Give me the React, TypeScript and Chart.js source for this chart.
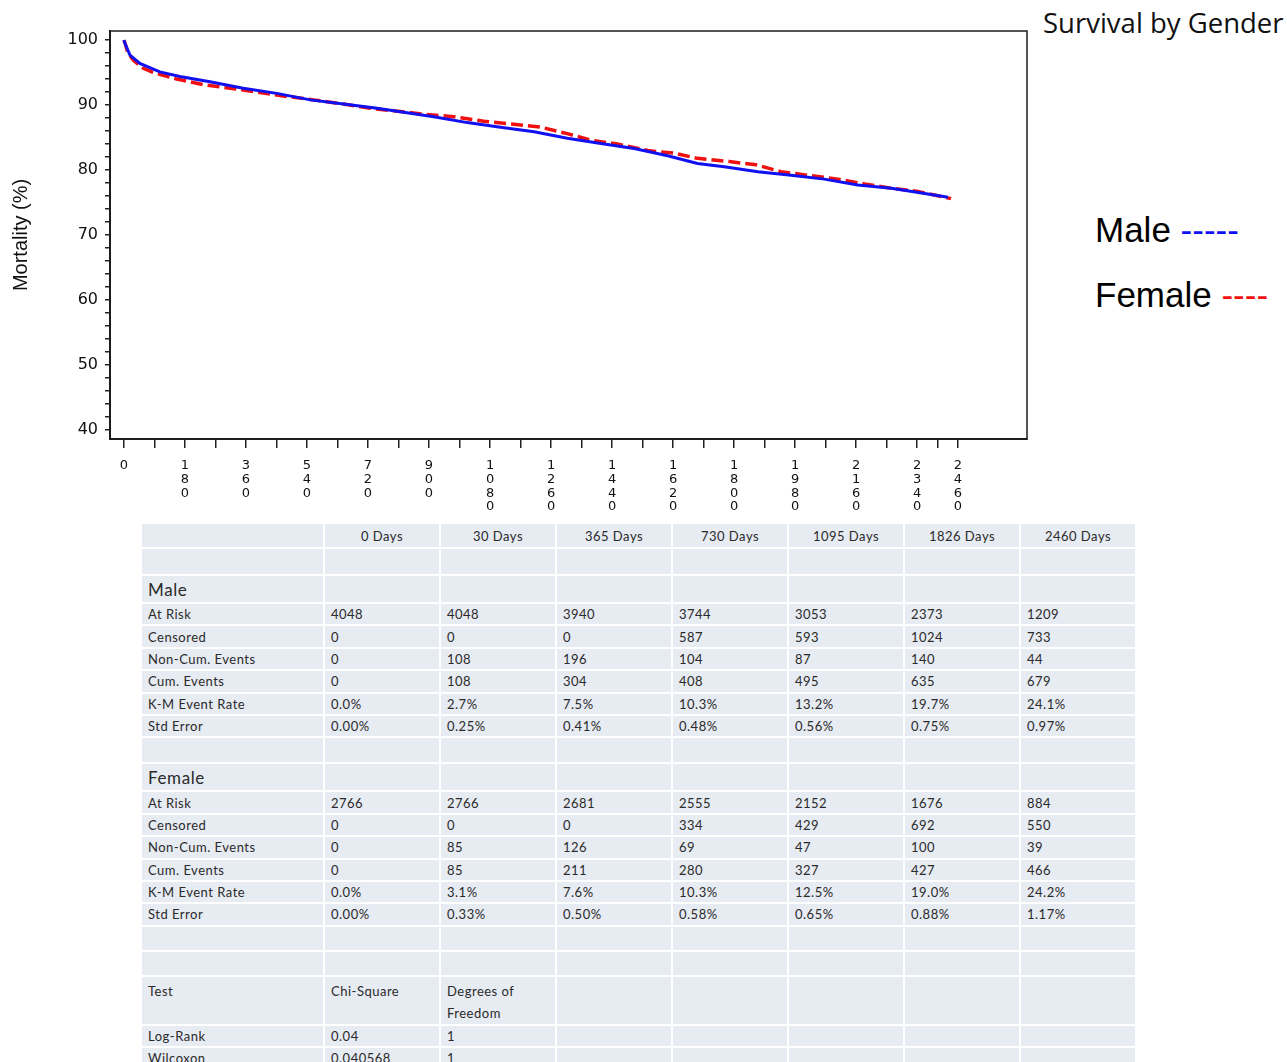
import React, { useEffect, useRef } from 'react';
import { Chart, registerables } from 'chart.js';

Chart.register(...registerables);

// ---- Curve data (survival %) ----
const maleDays = [0, 3, 18, 47, 106, 165, 254, 352, 451, 550, 648, 747, 825, 914, 1013, 1111, 1210, 1308, 1407, 1505, 1604, 1692, 1771, 1870, 1968, 2066, 2165, 2264, 2362, 2431];
const maleSurvival = [100, 99.5, 97.7, 96.4, 95.1, 94.4, 93.6, 92.6, 91.8, 90.8, 90.15, 89.5, 88.9, 88.2, 87.3, 86.6, 85.9, 84.9, 84.1, 83.3, 82.2, 81.0, 80.5, 79.75, 79.2, 78.6, 77.7, 77.2, 76.4, 75.8];

const femaleDays = [0, 3, 12, 28, 56, 82, 156, 239, 313, 470, 559, 648, 727, 816, 885, 973, 1062, 1141, 1229, 1308, 1377, 1456, 1545, 1623, 1692, 1786, 1865, 1938, 2017, 2106, 2185, 2264, 2342, 2440];
const femaleSurvival = [100, 99.6, 98.0, 96.9, 95.7, 95.1, 94.0, 93.1, 92.6, 91.4, 90.8, 90.15, 89.5, 89.0, 88.6, 88.2, 87.5, 87.1, 86.6, 85.6, 84.6, 84.0, 83.0, 82.6, 81.8, 81.3, 80.8, 79.75, 79.2, 78.6, 77.85, 77.2, 76.7, 75.6];

// ---- Axis ticks ----
const xTicks = [0, 90, 180, 270, 360, 450, 540, 630, 720, 810, 900, 990, 1080, 1170, 1260, 1350, 1440, 1530, 1620, 1710, 1800, 1890, 1980, 2070, 2160, 2250, 2340, 2400, 2460];
const xLabels = [0, 180, 360, 540, 720, 900, 1080, 1260, 1440, 1620, 1800, 1980, 2160, 2340, 2460];
const yTicks = [40, 42, 44, 46, 48, 50, 52, 54, 56, 58, 60, 62, 64, 66, 68, 70, 72, 74, 76, 78, 80, 82, 84, 86, 88, 90, 92, 94, 96, 98, 100];
const yLabels = [40, 50, 60, 70, 80, 90, 100];

// ---- Table data ----
const columns = ['0 Days', '30 Days', '365 Days', '730 Days', '1095 Days', '1826 Days', '2460 Days'];
const rowLabels = ['At Risk', 'Censored', 'Non-Cum. Events', 'Cum. Events', 'K-M Event Rate', 'Std Error'];
const maleAtRisk = ['4048', '4048', '3940', '3744', '3053', '2373', '1209'];
const maleCensored = ['0', '0', '0', '587', '593', '1024', '733'];
const maleNonCum = ['0', '108', '196', '104', '87', '140', '44'];
const maleCum = ['0', '108', '304', '408', '495', '635', '679'];
const maleKM = ['0.0%', '2.7%', '7.5%', '10.3%', '13.2%', '19.7%', '24.1%'];
const maleSE = ['0.00%', '0.25%', '0.41%', '0.48%', '0.56%', '0.75%', '0.97%'];
const femaleAtRisk = ['2766', '2766', '2681', '2555', '2152', '1676', '884'];
const femaleCensored = ['0', '0', '0', '334', '429', '692', '550'];
const femaleNonCum = ['0', '85', '126', '69', '47', '100', '39'];
const femaleCum = ['0', '85', '211', '280', '327', '427', '466'];
const femaleKM = ['0.0%', '3.1%', '7.6%', '10.3%', '12.5%', '19.0%', '24.2%'];
const femaleSE = ['0.00%', '0.33%', '0.50%', '0.58%', '0.65%', '0.88%', '1.17%'];
const testHeader = ['Test', 'Chi-Square', 'Degrees of Freedom'];
const testNames = ['Log-Rank', 'Wilcoxon'];
const testChiSquare = ['0.04', '0.040568'];
const testDF = ['1', '1'];

const framePlugin = {
  id: 'frame',
  afterDraw(chart: any) {
    const { ctx, chartArea } = chart;
    const { left, top, right, bottom } = chartArea;
    ctx.save();
    ctx.strokeStyle = '#1e1e1e';
    ctx.lineWidth = 1.5;
    ctx.strokeRect(left, top, right - left, bottom - top);
    ctx.restore();
  },
};

const TEXT = '#2a2a2a';
const CELL_BG = '#e7ebf2';

function Cell(props: { children?: any; w?: number; h: number; center?: boolean; big?: boolean; top?: boolean }) {
  const style: any = {
    background: CELL_BG,
    height: props.h,
    width: props.w,
    padding: props.top ? '3px 6px 0 6px' : '0 6px',
    boxSizing: 'border-box',
    fontFamily: 'Lato, "Noto Sans", sans-serif',
    fontSize: props.big ? 17 : 13,
    letterSpacing: props.big ? 0.6 : 0.5,
    color: TEXT,
    textAlign: props.center ? 'center' : 'left',
    verticalAlign: props.top ? 'top' : 'middle',
    whiteSpace: 'nowrap',
    lineHeight: props.top ? '22px' : 'normal',
    overflow: 'hidden',
  };
  return <td style={style}>{props.children}</td>;
}

function DataRows(props: { rows: string[][]; h: number }) {
  return (
    <>
      {props.rows.map((vals, i) => (
        <tr key={i}>
          <Cell h={props.h}>{rowLabels[i]}</Cell>
          {vals.map((v, j) => (
            <Cell key={j} h={props.h}>{v}</Cell>
          ))}
        </tr>
      ))}
    </>
  );
}

function BlankRow(props: { h: number; label?: string }) {
  return (
    <tr>
      <Cell h={props.h} big>{props.label || ''}</Cell>
      {columns.map((_, j) => (
        <Cell key={j} h={props.h}></Cell>
      ))}
    </tr>
  );
}

export default function App() {
  const canvasRef = useRef<HTMLCanvasElement | null>(null);

  useEffect(() => {
    const canvas = canvasRef.current;
    if (!canvas) return;
    const chart = new Chart(canvas, {
      type: 'line',
      data: {
        datasets: [
          {
            label: 'Male',
            data: maleDays.map((d, i) => ({ x: d, y: maleSurvival[i] })),
            borderColor: '#1010f0',
            borderWidth: 3,
            pointRadius: 0,
            tension: 0,
          },
          {
            label: 'Female',
            data: femaleDays.map((d, i) => ({ x: d, y: femaleSurvival[i] })),
            borderColor: '#f01010',
            borderWidth: 3.5,
            borderDash: [12, 5],
            pointRadius: 0,
            tension: 0,
          },
        ],
      },
      options: {
        responsive: false,
        animation: false,
        devicePixelRatio: 1,
        layout: { padding: { top: 31, right: 13, left: 0, bottom: 0 } },
        plugins: { legend: { display: false }, tooltip: { enabled: false }, title: { display: false } },
        scales: {
          x: {
            type: 'linear',
            min: -41,
            max: 2664,
            afterBuildTicks: (s: any) => {
              s.ticks = xTicks.map((v) => ({ value: v }));
            },
            afterFit: (s: any) => {
              s.height = 81;
            },
            ticks: {
              autoSkip: false,
              maxRotation: 0,
              minRotation: 0,
              padding: 11,
              color: '#111',
              font: { family: '"DejaVu Sans"', size: 13, lineHeight: 1.05 },
              callback: (v: any) => (xLabels.includes(Number(v)) ? String(v).split('') : ''),
            },
            grid: { drawOnChartArea: false, drawTicks: true, tickLength: 9, color: '#222', lineWidth: 1.5 },
            border: { display: true, color: '#1e1e1e', width: 2 },
          },
          y: {
            type: 'linear',
            min: 38.6,
            max: 101.4,
            afterBuildTicks: (s: any) => {
              s.ticks = yTicks.map((v) => ({ value: v }));
            },
            afterFit: (s: any) => {
              s.width = 110;
            },
            ticks: {
              autoSkip: false,
              padding: 7,
              color: '#111',
              font: { family: '"DejaVu Sans"', size: 16 },
              callback: (v: any) => (yLabels.includes(Number(v)) ? String(v) : ''),
            },
            grid: { drawOnChartArea: false, drawTicks: true, tickLength: 5, color: '#222', lineWidth: 1.5 },
            border: { display: true, color: '#1e1e1e', width: 2 },
            title: {
              display: true,
              text: 'Mortality (%)',
              color: '#111',
              font: { family: '"Liberation Sans", Arial, sans-serif', size: 20 },
              padding: { top: 9, bottom: 0 },
            },
          },
        },
      },
      plugins: [framePlugin],
    } as any);
    return () => chart.destroy();
  }, []);

  const legendFont = '"Liberation Sans", Arial, sans-serif';

  return (
    <div style={{ position: 'absolute', left: 0, top: 0, width: 1287, height: 1062, overflow: 'hidden', background: '#fff' }}>
      <canvas ref={canvasRef} width={1040} height={520} style={{ position: 'absolute', left: 0, top: 0, width: 1040, height: 520 }} />
      <div style={{ position: 'absolute', left: 1043, top: 5, fontFamily: '"Open Sans", Lato, sans-serif', fontSize: 27.5, lineHeight: '36px', color: '#111', whiteSpace: 'nowrap' }}>
        Survival by Gender
      </div>
      <div style={{ position: 'absolute', left: 1095, top: 212, fontFamily: legendFont, fontSize: 35, lineHeight: '35px', color: '#000', whiteSpace: 'nowrap' }}>
        Male <span style={{ color: '#1010f0' }}>-----</span>
      </div>
      <div style={{ position: 'absolute', left: 1095, top: 277, fontFamily: legendFont, fontSize: 35, lineHeight: '35px', color: '#000', whiteSpace: 'nowrap' }}>
        Female <span style={{ color: '#f01010' }}>----</span>
      </div>
      <table style={{ position: 'absolute', left: 140, top: 522, borderCollapse: 'separate', borderSpacing: 2, background: '#fff', tableLayout: 'fixed' }}>
        <tbody>
          <tr>
            <Cell w={181} h={23}></Cell>
            {columns.map((c, j) => (
              <Cell key={j} w={114} h={23} center>{c}</Cell>
            ))}
          </tr>
          <BlankRow h={25} />
          <BlankRow h={26} label="Male" />
          <DataRows h={20.4} rows={[maleAtRisk, maleCensored, maleNonCum, maleCum, maleKM, maleSE]} />
          <BlankRow h={24} />
          <BlankRow h={26} label="Female" />
          <DataRows h={20.4} rows={[femaleAtRisk, femaleCensored, femaleNonCum, femaleCum, femaleKM, femaleSE]} />
          <BlankRow h={23} />
          <BlankRow h={23} />
          <tr>
            {testHeader.map((t, j) => (
              <Cell key={j} h={46} top>
                {t === 'Degrees of Freedom' ? (<>Degrees of<br />Freedom</>) : t}
              </Cell>
            ))}
            {columns.slice(2).map((_, j) => (
              <Cell key={'e' + j} h={46}></Cell>
            ))}
          </tr>
          {testNames.map((n, i) => (
            <tr key={n}>
              <Cell h={20}>{n}</Cell>
              <Cell h={20}>{testChiSquare[i]}</Cell>
              <Cell h={20}>{testDF[i]}</Cell>
              {columns.slice(2).map((_, j) => (
                <Cell key={j} h={20}></Cell>
              ))}
            </tr>
          ))}
        </tbody>
      </table>
    </div>
  );
}
